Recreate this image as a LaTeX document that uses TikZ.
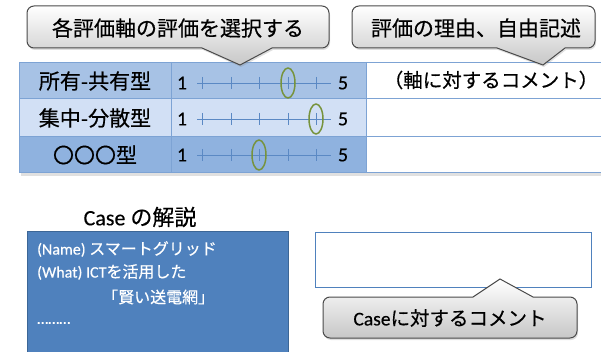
\documentclass[tikz,border=0pt]{standalone}
\usepackage{fontspec}
\setmainfont{Carlito}[FakeBold=0.3]
\newfontfamily\jpfont[FakeBold=0.4]{Noto Sans CJK JP}
\newcommand\jp[1]{{\jpfont #1}}
\usetikzlibrary{shadows}
\definecolor{calloutline}{HTML}{4A4A4A}
\definecolor{rowA}{HTML}{A7C2E5}
\definecolor{rowB}{HTML}{D2E0F5}
\definecolor{rowC}{HTML}{8FB2DF}
\definecolor{tblline}{HTML}{7DA3D4}
\definecolor{casefill}{HTML}{4F81BD}
\definecolor{caseline}{HTML}{3C6696}
\definecolor{scaleline}{HTML}{5B89C4}
\definecolor{pick}{HTML}{77933C}
\begin{document}
\begin{tikzpicture}[x=1pt,y=-1pt,
  callout/.style={draw=calloutline, line width=1pt, top color=white, bottom color=black!22,
    drop shadow={opacity=0.25, shadow xshift=1pt, shadow yshift=-2pt}},
  big/.style={font=\fontsize{21}{25}\selectfont, inner sep=0pt},
  mid/.style={font=\fontsize{19.5}{23}\selectfont, inner sep=0pt},
  num/.style={font=\fontsize{20}{24}\selectfont, inner sep=0pt},
  small/.style={font=\fontsize{16}{20}\selectfont, inner sep=0pt, text=white, anchor=west},
  tl/.style={draw=tblline, line width=0.9pt},
  scl/.style={draw=scaleline, line width=0.8pt},
  ell/.style={draw=pick, line width=1.5pt}]
\useasboundingbox (0,0) rectangle (601,352);

% ---- table ----
\fill[black!12] (21,173) rectangle (601,176);
\fill[rowA] (19,62) rectangle (366,98);
\fill[rowB] (19,98) rectangle (366,136);
\fill[rowC] (19,136) rectangle (366,172);
\fill[white] (366,62) rectangle (601,172);
\foreach \yy in {62,98,136,172} \draw[tl] (19,\yy) -- (601,\yy);
\draw[tl] (19,62) -- (19,172);
\draw[tl] (171,62) -- (171,172);
\draw[tl] (366,62) -- (366,172);

\node[big] (l1) at (95,81) {\jp{所有-共有型}};
\node[big] (l2) at (95,118) {\jp{集中-分散型}};
\node[big] (l3) at (95,155) {\jp{〇〇〇型}};

\foreach \r/\yy/\pos in {1/83/288,2/119/316,3/155/259}{
  \node[num] (a\r) at (182,\yy) {1};
  \node[num] (b\r) at (343,\yy) {5};
  \draw[scl] (197,\yy) -- (331,\yy);
  \foreach \tx in {202,231,259,288,316} \draw[scl] (\tx,\yy-6) -- (\tx,\yy+6);
  \draw[ell] (\pos,\yy) ellipse (7 and 15);
}
\node[mid] (cm) at (491,80) {\jp{（軸に対するコメント）}};

% ---- callouts ----
\path[callout] (240,65) -- (202,48) [rounded corners=7pt] -- (27,48) -- (27,6) -- (329,6) -- (329,48) [sharp corners] -- (272,48) -- cycle;
\node[big] (c1) at (178,28) {\jp{各評価軸の評価を選択する}};

\path[callout] (543,65) -- (497,48) [rounded corners=7pt] -- (352,48) -- (352,6) -- (595,6) -- (595,48) [sharp corners] -- (565,48) -- cycle;
\node[big] (c2) at (476,28) {\jp{評価の理由、自由記述}};

% ---- case ----
\node[font=\fontsize{22}{26}\selectfont, inner sep=0pt] (ct) at (140,217) {Case \jp{の解説}};
\path[fill=casefill, draw=caseline, line width=1pt] (27,232) rectangle (288,358);
\node[small] (t1) at (37,249) {(Name) \jp{スマートグリッド}};
\node[small] (t2) at (37,272) {(What) ICT\jp{を活用した}};
\node[small] (t3) at (102,297) {\jp{「賢い送電網」}};
\node[small] (t4) at (37,323) {………};

\node[draw=casefill, line width=1.5pt, minimum width=276pt, minimum height=55pt, inner sep=0pt] (cbox) at (453.5,260) {};

\path[callout] (500,279) -- (533,297) [rounded corners=7pt] -- (577,297) -- (577,338) -- (323,338) -- (323,297) [sharp corners] -- (473,297) -- cycle;
\node[mid] (c3) at (450,318) {Case\jp{に対するコメント}};
\end{tikzpicture}
\end{document}
